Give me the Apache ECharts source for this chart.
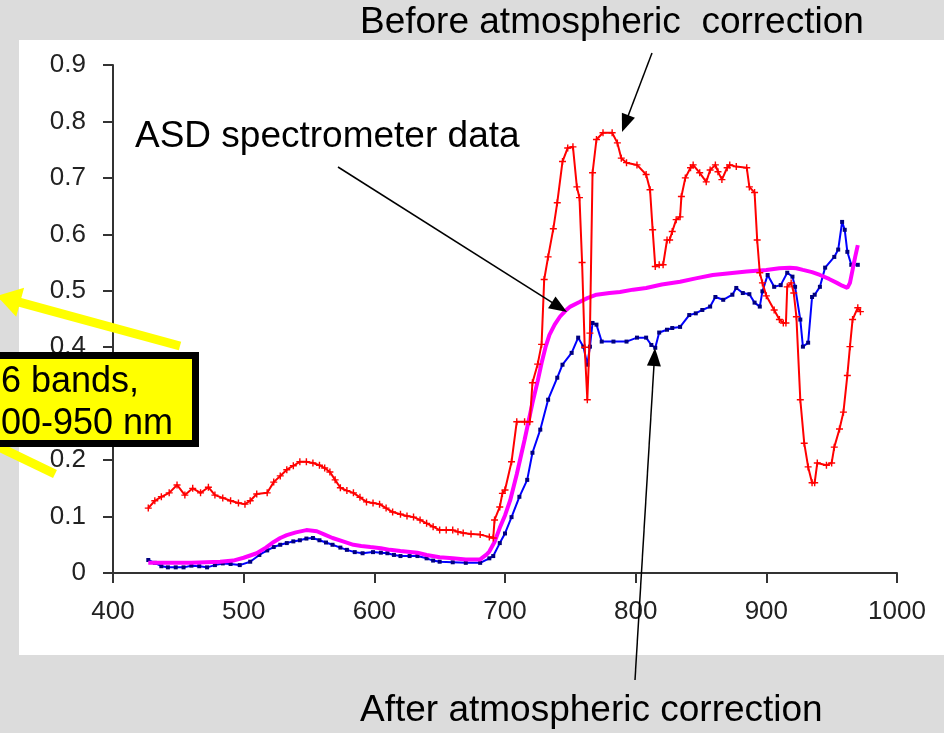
<!DOCTYPE html>
<html>
<head>
<meta charset="utf-8">
<script src="https://cdn.jsdelivr.net/npm/echarts@6/dist/echarts.min.js"></script>
<style>
html,body{margin:0;padding:0;background:#dcdcdc;}
#chart{width:944px;height:733px;}
</style>
</head>
<body>
<div id="chart"></div>
<script>
// X axis / Y axis ticks
const xTicks = [400, 500, 600, 700, 800, 900, 1000];
const yTicks = [0, 0.1, 0.2, 0.3, 0.4, 0.5, 0.6, 0.7, 0.8, 0.9];

// Before atmospheric correction (red)
const beforeWl = [427,432,437,443,449,455,461,467,473,478,484,490,496,501,505,510,518,523,528,533,538,543,548,553,558,562,566,570,574,579,584,589,594,599,604,609,614,620,625,630,635,640,645,650,655,660,664,668,674,681,688,691,692,696,698,700,705,709,715,719,721,725,728,730,733,737,740,744,748,752,755,757,759,761,763,765,767,770,775,782,786,789,793,801,808,811,813,815,818,821,824,826,828,831,834,835,838,842,844,849,854,857,861,863,866,870,872,877,885,887,891,893,895,897,900,906,910,913,915,916,919,921,923,926,929,932,935,937,939,946,950,952,956,959,962,964,966,970,972];
const beforeVal = [0.115,0.128,0.135,0.142,0.156,0.138,0.150,0.142,0.152,0.138,0.133,0.128,0.124,0.122,0.128,0.140,0.142,0.161,0.172,0.183,0.190,0.197,0.197,0.195,0.191,0.186,0.179,0.165,0.151,0.146,0.142,0.134,0.126,0.124,0.122,0.115,0.108,0.104,0.101,0.099,0.094,0.088,0.082,0.076,0.076,0.076,0.073,0.071,0.069,0.068,0.064,0.062,0.094,0.117,0.141,0.147,0.197,0.268,0.268,0.268,0.337,0.370,0.405,0.520,0.560,0.610,0.656,0.729,0.753,0.755,0.684,0.665,0.550,0.400,0.307,0.425,0.709,0.768,0.780,0.780,0.762,0.735,0.727,0.723,0.706,0.679,0.608,0.543,0.546,0.546,0.590,0.590,0.605,0.626,0.631,0.667,0.700,0.718,0.723,0.709,0.693,0.714,0.723,0.711,0.697,0.718,0.723,0.720,0.718,0.684,0.674,0.590,0.532,0.514,0.491,0.466,0.449,0.443,0.443,0.507,0.514,0.496,0.454,0.307,0.230,0.188,0.160,0.160,0.195,0.191,0.195,0.223,0.255,0.285,0.350,0.401,0.449,0.470,0.463];

// After atmospheric correction (blue)
const afterWl = [427,432,437,442,448,454,460,466,472,478,484,490,497,505,512,518,523,528,533,538,543,548,553,558,563,568,574,579,585,591,599,605,610,615,620,627,633,640,645,650,660,670,681,688,691,696,700,705,711,717,721,727,733,740,744,751,756,760,763,765,767,770,774,783,793,801,808,812,815,818,824,828,834,841,846,851,857,861,867,874,877,882,887,891,895,897,901,906,911,916,920,922,926,928,932,935,937,941,945,952,955,958,960,962,965,970];
const afterVal = [0.023,0.018,0.012,0.010,0.010,0.010,0.013,0.012,0.010,0.014,0.017,0.016,0.014,0.020,0.032,0.040,0.046,0.050,0.053,0.056,0.058,0.061,0.062,0.058,0.054,0.050,0.045,0.041,0.037,0.035,0.037,0.036,0.035,0.032,0.030,0.030,0.030,0.026,0.022,0.020,0.019,0.018,0.018,0.026,0.030,0.053,0.070,0.099,0.135,0.165,0.213,0.254,0.307,0.346,0.369,0.390,0.417,0.401,0.369,0.401,0.443,0.440,0.410,0.410,0.410,0.417,0.417,0.404,0.399,0.426,0.431,0.434,0.436,0.457,0.460,0.466,0.472,0.489,0.484,0.493,0.505,0.496,0.494,0.479,0.472,0.499,0.528,0.507,0.510,0.532,0.525,0.507,0.449,0.401,0.408,0.489,0.493,0.507,0.541,0.560,0.573,0.622,0.608,0.569,0.546,0.546];

// ASD spectrometer data (magenta)
const asdWl = [427,440,460,482,492,500,505,510,517,523,528,533,540,548,556,562,568,576,584,590,597,605,612,620,633,640,650,660,670,681,686,688,692,696,700,704,709,715,721,725,728,731,734,738,742,746,750,757,763,770,780,788,798,808,820,834,846,859,872,885,900,910,918,923,928,935,941,948,954,958,962,964,966,968,970];
const asdVal = [0.018,0.018,0.018,0.020,0.022,0.027,0.031,0.035,0.045,0.055,0.062,0.067,0.072,0.076,0.074,0.068,0.062,0.056,0.050,0.048,0.046,0.044,0.041,0.039,0.036,0.032,0.028,0.026,0.024,0.024,0.033,0.038,0.055,0.080,0.102,0.129,0.175,0.236,0.301,0.340,0.372,0.400,0.422,0.440,0.454,0.464,0.472,0.480,0.487,0.493,0.496,0.498,0.502,0.505,0.511,0.516,0.522,0.528,0.531,0.534,0.537,0.540,0.541,0.540,0.537,0.533,0.528,0.521,0.514,0.509,0.505,0.514,0.537,0.560,0.581];

const zip = (a, b) => a.map((v, i) => [v, b[i]]);

const FONT = '"Liberation Sans", Arial, sans-serif';

function arrow(x1, y1, x2, y2, color, lw, headLen, headHalf, z) {
  const dx = x2 - x1, dy = y2 - y1, L = Math.hypot(dx, dy);
  const ux = dx / L, uy = dy / L, px = -uy, py = ux;
  const bx = x2 - ux * headLen, by = y2 - uy * headLen;
  return [
    { type: 'line', z: z, shape: { x1: x1, y1: y1, x2: bx + ux * 2, y2: by + uy * 2 }, style: { stroke: color, lineWidth: lw } },
    { type: 'polygon', z: z, shape: { points: [[x2, y2], [bx + px * headHalf, by + py * headHalf], [bx - px * headHalf, by - py * headHalf]] }, style: { fill: color } }
  ];
}

function label(text, x, y, size, align) {
  return { type: 'text', z: 120, style: { text: text, x: x, y: y, font: size + 'px ' + FONT, fill: '#000', align: align || 'left', verticalAlign: 'middle', textAlign: align || 'left', textVerticalAlign: 'middle' } };
}

const chart = echarts.init(document.getElementById('chart'), null, { renderer: 'canvas' });

const axisColor = '#333';
const option = {
  backgroundColor: '#dcdcdc',
  animation: false,
  grid: { left: 113, top: 65, width: 784, height: 508 },
  xAxis: {
    type: 'value', min: xTicks[0], max: xTicks[xTicks.length - 1], interval: 100,
    axisLine: { show: true, onZero: false, lineStyle: { color: axisColor, width: 2 } },
    axisTick: { show: true, length: 10, lineStyle: { color: axisColor, width: 2 } },
    splitLine: { show: false },
    axisLabel: { fontFamily: FONT, fontSize: 26, color: '#222', margin: 26, formatter: v => String(v) }
  },
  yAxis: {
    type: 'value', min: yTicks[0], max: yTicks[yTicks.length - 1], interval: 0.1,
    axisLine: { show: true, lineStyle: { color: axisColor, width: 2 } },
    axisTick: { show: true, length: 10, lineStyle: { color: axisColor, width: 2 } },
    splitLine: { show: false },
    axisLabel: { fontFamily: FONT, fontSize: 26, color: '#222', margin: 27,
      formatter: v => (Math.abs(v) < 1e-9 ? '0' : v.toFixed(1)) }
  },
  series: [
    {
      name: 'After atmospheric correction', type: 'line', data: zip(afterWl, afterVal),
      lineStyle: { color: '#0000ff', width: 2 }, itemStyle: { color: '#000080' },
      symbol: 'rect', symbolSize: 4, showSymbol: true, z: 3
    },
    {
      name: 'ASD spectrometer data', type: 'line', data: zip(asdWl, asdVal),
      lineStyle: { color: '#ff00ff', width: 4 }, symbol: 'none', z: 4
    },
    {
      name: 'Before atmospheric correction', type: 'line', data: zip(beforeWl, beforeVal),
      lineStyle: { color: '#ff0000', width: 2 }, itemStyle: { color: '#ff0000' },
      symbol: 'path://M4,0H6V4H10V6H6V10H4V6H0V4H4Z', symbolSize: 7, showSymbol: true, z: 5
    }
  ],
  graphic: { elements: [
    { type: 'rect', z: -100, silent: true, shape: { x: 19, y: 40, width: 940, height: 615 }, style: { fill: '#ffffff' } },
    label('Before atmospheric  correction', 360, 23, 37),
    label('ASD spectrometer data', 135, 137, 37),
    label('After atmospheric correction', 360, 711, 37),
    ...arrow(652, 53, 622, 132, '#000', 1.5, 18, 7, 110),
    ...arrow(338, 167, 567, 312, '#000', 1.5, 18, 7, 110),
    ...arrow(635, 680, 655, 348, '#000', 1.5, 18, 7, 110),
    { type: 'line', z: 115, shape: { x1: -20, y1: 438, x2: 55, y2: 474 }, style: { stroke: '#ffff00', lineWidth: 9 } },
    ...arrow(180, 346, -3, 296, '#ffff00', 9, 24, 15, 115),
    { type: 'rect', z: 118, shape: { x: -10, y: 355.5, width: 205.5, height: 88 }, style: { fill: '#ffff00', stroke: '#000', lineWidth: 7 } },
    label('6 bands,', 1, 382, 36),
    label('00-950 nm', 1, 424, 36)
  ] }
};
chart.setOption(option);
</script>
</body>
</html>
